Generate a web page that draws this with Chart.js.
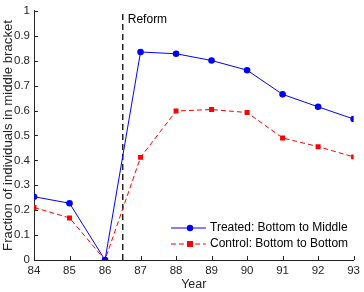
<!DOCTYPE html>
<html>
<head>
<meta charset="utf-8">
<script src="https://cdn.jsdelivr.net/npm/chart.js@4/dist/chart.umd.min.js"></script>
<style>
  html, body { margin: 0; padding: 0; background: #fff; }
  #wrap { width: 364px; height: 292px; }
</style>
</head>
<body>
<div id="wrap"><canvas id="myChart" width="364" height="292"></canvas></div>
<script>
// datos
const years = [84, 85, 86, 87, 88, 89, 90, 91, 92, 93];
const treated = [0.254, 0.228, 0, 0.835, 0.828, 0.801, 0.762, 0.665, 0.615, 0.566];
const control = [0.211, 0.169, 0, 0.412, 0.598, 0.604, 0.592, 0.490, 0.455, 0.414];
const reformYear = 86.5;
const yTicks = [0, 0.1, 0.2, 0.3, 0.4, 0.5, 0.6, 0.7, 0.8, 0.9, 1];

const FONT = 'Liberation Sans, Arial, Helvetica, sans-serif';
const AXIS = '#262626';

function toPoints(xs, ys) {
    return xs.map((x, i) => ({ x: x, y: ys[i] }));
}

// ticks hacia adentro, estilo MATLAB
const innerTicks = {
    id: 'innerTicks',
    afterDraw(chart) {
        const ctx = chart.ctx;
        const xs = chart.scales.x, ys = chart.scales.y;
        const a = chart.chartArea;
        ctx.save();
        ctx.strokeStyle = AXIS;
        ctx.lineWidth = 1;
        ctx.beginPath();
        years.forEach(v => {
            const px = Math.round(xs.getPixelForValue(v)) + 0.5;
            ctx.moveTo(px, a.bottom);
            ctx.lineTo(px, a.bottom - 4);
        });
        yTicks.forEach(v => {
            const py = Math.round(ys.getPixelForValue(v)) + 0.5;
            ctx.moveTo(a.left, py);
            ctx.lineTo(a.left + 4, py);
        });
        ctx.stroke();

        // texto "Reform"
        ctx.fillStyle = '#000';
        ctx.font = '12px ' + FONT;
        ctx.textBaseline = 'middle';
        ctx.textAlign = 'left';
        ctx.fillText('Reform', xs.getPixelForValue(reformYear) + 5, a.top + 9);

        // leyenda
        const items = [
            { label: 'Treated: Bottom to Middle', color: '#0000ff', dash: [], marker: 'circle' },
            { label: 'Control: Bottom to Bottom', color: '#ff0000', dash: [5, 3], marker: 'rect' }
        ];
        const lx = 171, ly = 228;
        items.forEach((it, i) => {
            const y = ly + i * 16;
            ctx.strokeStyle = it.color;
            ctx.fillStyle = it.color;
            ctx.setLineDash(it.dash);
            ctx.beginPath();
            ctx.moveTo(lx, y);
            ctx.lineTo(lx + 35, y);
            ctx.stroke();
            ctx.setLineDash([]);
            if (it.marker === 'circle') {
                ctx.beginPath();
                ctx.arc(lx + 19, y, 3.2, 0, Math.PI * 2);
                ctx.fill();
            } else {
                ctx.fillRect(lx + 16, y - 3, 6, 6);
            }
            ctx.fillStyle = '#000';
            ctx.fillText(it.label, lx + 39, y);
        });
        ctx.restore();
    }
};

function createChart() {
    const ctx = document.getElementById('myChart').getContext('2d');
    new Chart(ctx, {
        type: 'line',
        data: {
            datasets: [{
                label: 'Treated: Bottom to Middle',
                data: toPoints(years, treated),
                borderColor: '#0000ff',
                backgroundColor: '#0000ff',
                borderWidth: 1,
                pointStyle: 'circle',
                pointRadius: 3.3,
                pointBorderWidth: 0,
                fill: false
            }, {
                label: 'Control: Bottom to Bottom',
                data: toPoints(years, control),
                borderColor: '#ff0000',
                backgroundColor: '#ff0000',
                borderWidth: 1,
                borderDash: [5, 3],
                pointStyle: 'rect',
                pointRadius: 3.5,
                pointBorderWidth: 0,
                fill: false
            }, {
                label: 'Reform',
                data: [{ x: reformYear, y: 0 }, { x: reformYear, y: 1 }],
                borderColor: '#000',
                borderWidth: 1.3,
                borderDash: [6, 4],
                pointRadius: 0,
                fill: false
            }]
        },
        options: {
            responsive: false,
            animation: false,
            layout: { padding: { top: 4, right: 5, left: 0, bottom: 0 } },
            plugins: {
                legend: { display: false },
                tooltip: { enabled: false }
            },
            scales: {
                x: {
                    type: 'linear',
                    min: 84,
                    max: 93,
                    afterBuildTicks: s => { s.ticks = years.map(v => ({ value: v })); },
                    afterFit: s => { s.height = 32; },
                    grid: { drawOnChartArea: false, drawTicks: false },
                    border: { color: AXIS },
                    ticks: { color: AXIS, padding: 4, font: { family: FONT, size: 11.5 } },
                    title: { display: true, text: 'Year', color: AXIS, padding: 0, font: { family: FONT, size: 12.5 } }
                },
                y: {
                    type: 'linear',
                    min: 0,
                    max: 1,
                    afterBuildTicks: s => { s.ticks = yTicks.map(v => ({ value: v })); },
                    afterFit: s => { s.width = 34; },
                    grid: { drawOnChartArea: false, drawTicks: false },
                    border: { color: AXIS },
                    ticks: {
                        color: AXIS, padding: 4, font: { family: FONT, size: 11.5 },
                        callback: v => String(+v.toFixed(1))
                    },
                    title: { display: true, text: 'Fraction of individuals in middle bracket', color: AXIS, padding: 0, font: { family: FONT, size: 13.2 } }
                }
            }
        },
        plugins: [innerTicks]
    });
}

createChart();
</script>
</body>
</html>
